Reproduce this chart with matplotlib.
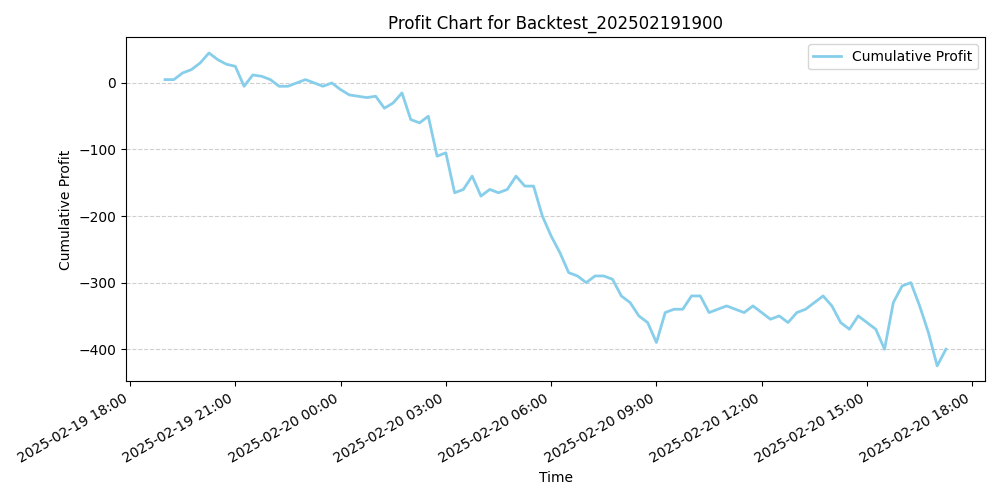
import pandas as pd
import matplotlib
matplotlib.use("Agg")
import matplotlib.pyplot as plt
import matplotlib.dates as mdates

start_time = "2025-02-19 19:00"
profit = [5, 5, 15, 20, 30, 45, 35, 28, 25, -5, 12, 10, 5, -5, -5, 0, 5, 0, -5, 0,
          -10, -18, -20, -22, -20, -38, -30, -15, -55, -60, -50, -110, -105, -165,
          -160, -140, -170, -160, -165, -160, -140, -155, -155, -200, -230, -255,
          -285, -290, -300, -290, -290, -295, -320, -330, -350, -360, -390, -345,
          -340, -340, -320, -320, -345, -340, -335, -340, -345, -335, -345, -355,
          -350, -360, -345, -340, -330, -320, -335, -360, -370, -350, -360, -370,
          -400, -330, -305, -300, -335, -375, -425, -400]
times = pd.date_range(start_time, periods=len(profit), freq="15min")

fig, ax = plt.subplots(figsize=(10, 5), dpi=100)
ax.plot(times, profit, color="skyblue", linewidth=2, label="Cumulative Profit")
ax.set_title("Profit Chart for Backtest_202502191900")
ax.set_xlabel("Time")
ax.set_ylabel("Cumulative Profit")
ax.grid(axis="y", linestyle="--", alpha=0.6)
ax.legend(loc="upper right")
ax.xaxis.set_major_locator(mdates.HourLocator(byhour=range(0, 24, 3)))
ax.xaxis.set_major_formatter(mdates.DateFormatter("%Y-%m-%d %H:%M"))
fig.autofmt_xdate()
plt.tight_layout()
plt.savefig("out.png")
